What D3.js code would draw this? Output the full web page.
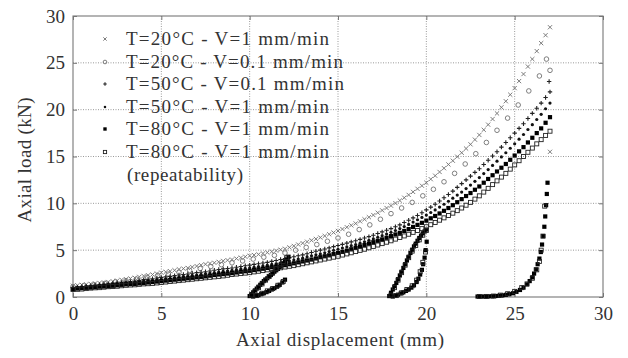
<!DOCTYPE html>
<html><head><meta charset="utf-8">
<script src="https://cdn.jsdelivr.net/npm/d3@7"></script>
<style>
html,body{margin:0;padding:0;background:#fff;}
svg{display:block;}
svg text{font-family:"Liberation Serif","DejaVu Serif",serif;fill:#333;}
</style></head>
<body>
<svg id="chart" width="628" height="358"></svg>
<script>
// ---------------- DATA ----------------
const xTicks = [0, 5, 10, 15, 20, 25, 30];
const yTicks = [0, 5, 10, 15, 20, 25, 30];
const xTitle = "Axial displacement (mm)";
const yTitle = "Axial load (kN)";
const seriesNames = [
  "T=20°C - V=1 mm/min",
  "T=20°C - V=0.1 mm/min",
  "T=50°C - V=0.1 mm/min",
  "T=50°C - V=1 mm/min",
  "T=80°C - V=1 mm/min",
  "T=80°C - V=1 mm/min"
];
const repeatNote = "(repeatability)";

// displacement samples (mm)
const dispA = [0,0.25,0.5,0.75,1,1.25,1.5,1.75,2,2.25,2.5,2.75,3,3.25,3.5,3.75,4,4.25,4.5,4.75,5,5.25,5.5,5.75,6,6.25,6.5,6.75,7,7.25,7.5,7.75,8,8.25,8.5,8.75,9,9.25,9.5,9.75,10,10.25,10.5,10.75,11,11.25,11.5,11.75,12,12.25,12.5,12.75,13,13.25,13.5,13.75,14,14.25,14.5,14.75,15,15.25,15.5,15.75,16,16.25,16.5,16.75,17,17.25,17.5,17.75,18,18.25,18.5,18.75,19,19.25,19.5,19.75,20,20.25,20.5,20.75,21,21.25,21.5,21.75,22,22.25,22.5,22.75,23,23.25,23.5,23.75,24,24.25,24.5,24.75,25,25.25,25.5,25.75,26,26.25,26.5,26.75,27];
const dispB = [0,0.6,1.2,1.8,2.4,3,3.6,4.2,4.8,5.4,6,6.6,7.2,7.8,8.4,9,9.6,10.2,10.8,11.4,12,12.6,13.2,13.8,14.4,15,15.6,16.2,16.8,17.4,18,18.6,19.2,19.8,20.4,21,21.6,22.2,22.8,23.4,24,24.6,25.2,25.8,26.4,26.8,27.0];

// loads (kN)
const loadT20V1 = [1.2,1.25,1.3,1.35, 1.4,1.45,1.5,1.55, 1.6,1.68,1.75,1.83, 1.9,1.98,2.05,2.15, 2.25,2.32,2.4,2.5, 2.6,2.68,2.75,2.85, 2.95,3.03,3.1,3.2, 3.3,3.4,3.5,3.58, 3.65,3.75,3.85,3.93, 4.0,4.1,4.2,4.3, 4.4,4.48,4.55,4.65, 4.75,4.85,4.95,5.05, 5.15,5.3,5.45,5.6, 5.75,5.9,6.05,6.2, 6.35,6.52,6.7,6.88, 7.05,7.25,7.45,7.65, 7.85,8.08,8.3,8.52, 8.75,9.0,9.25,9.5, 9.75,10.02,10.3,10.6, 10.9,11.22,11.55,11.88, 12.2,12.58,12.95,13.35, 13.75,14.15,14.55,14.98, 15.4,15.85,16.3,16.8, 17.3,17.85,18.4,19.0, 19.6,20.25,20.9,21.6, 22.3,23.05,23.8,24.6, 25.4,26.25,27.1,27.95, 28.8];
const tailXT20V1 = [27.0];
const tailYT20V1 = [15.5];
const loadT20V01 = [1.1,1.2,1.3,1.45,1.6,1.75,1.9,2.1,2.3,2.45,2.65,2.85,3.05,3.25,3.45,3.65,3.85,4.05,4.25,4.45,4.7,5.0,5.3,5.6,5.95,6.3,6.7,7.2,7.7,8.3,8.9,9.5,10.1,10.8,11.5,12.3,13.2,14.2,15.3,16.5,17.8,19.1,20.5,22.0,23.6,25.4,24.2];
const loadT50V01 = [1.0,1.05,1.1,1.15, 1.2,1.25,1.3,1.35, 1.4,1.45,1.5,1.55, 1.6,1.65,1.7,1.78, 1.85,1.9,1.95,2.03, 2.1,2.15,2.2,2.28, 2.35,2.4,2.45,2.53, 2.6,2.65,2.7,2.78, 2.85,2.93,3.0,3.05, 3.1,3.18,3.25,3.33, 3.4,3.48,3.55,3.63, 3.7,3.8,3.9,4.0, 4.1,4.2,4.3,4.4, 4.5,4.62,4.75,4.88, 5.0,5.12,5.25,5.38, 5.5,5.62,5.75,5.88, 6.0,6.15,6.3,6.45, 6.6,6.78,6.95,7.12, 7.3,7.5,7.7,7.95, 8.2,8.45,8.7,9.0, 9.3,9.6,9.9,10.25, 10.6,10.95,11.3,11.7, 12.1,12.5,12.9,13.3, 13.7,14.15,14.6,15.05, 15.5,16.0,16.5,17.0, 17.5,18.0,18.5,19.05, 19.6,20.15,20.7,21.3, 21.9];
const tailXT50V01 = [26.95];
const tailYT50V01 = [23.0];
const loadT50V1 = [0.95,1.0,1.05,1.1, 1.15,1.2,1.25,1.3, 1.35,1.4,1.45,1.5, 1.55,1.58,1.6,1.65, 1.7,1.75,1.8,1.85, 1.9,1.95,2.0,2.08, 2.15,2.2,2.25,2.3, 2.35,2.42,2.5,2.55, 2.6,2.68,2.75,2.8, 2.85,2.92,3.0,3.05, 3.1,3.18,3.25,3.32, 3.4,3.48,3.55,3.65, 3.75,3.85,3.95,4.05, 4.15,4.28,4.4,4.5, 4.6,4.72,4.85,4.98, 5.1,5.22,5.35,5.48, 5.6,5.75,5.9,6.05, 6.2,6.38,6.55,6.72, 6.9,7.1,7.3,7.52, 7.75,8.0,8.25,8.5, 8.75,9.02,9.3,9.6, 9.9,10.22,10.55,10.88, 11.2,11.58,11.95,12.35, 12.75,13.18,13.6,14.05, 14.5,14.95,15.4,15.88, 16.35,16.85,17.35,17.88, 18.4,18.95,19.5,20.1, 20.7];
const loadT80V1 = [0.85,0.9,0.95,0.98, 1.0,1.05,1.1,1.12, 1.15,1.2,1.25,1.3, 1.35,1.38,1.4,1.45, 1.5,1.55,1.6,1.65, 1.7,1.75,1.8,1.85, 1.9,1.95,2.0,2.05, 2.1,2.15,2.2,2.28, 2.35,2.4,2.45,2.5, 2.55,2.62,2.7,2.75, 2.8,2.88,2.95,3.02, 3.1,3.18,3.25,3.32, 3.4,3.5,3.6,3.7, 3.8,3.9,4.0,4.12, 4.25,4.35,4.45,4.58, 4.7,4.82,4.95,5.1, 5.25,5.4,5.55,5.7, 5.85,6.0,6.15,6.32, 6.5,6.68,6.85,7.05, 7.25,7.48,7.7,7.92, 8.15,8.4,8.65,8.92, 9.2,9.5,9.8,10.12, 10.45,10.78,11.1,11.45, 11.8,12.2,12.6,13.0, 13.4,13.8,14.2,14.65, 15.1,15.55,16.0,16.5, 17.0,17.5,18.0,18.6, 19.2];
const loadT80V1Rep = [0.8,0.82,0.85,0.9, 0.95,0.98,1.0,1.05, 1.1,1.12,1.15,1.2, 1.25,1.28,1.3,1.35, 1.4,1.42,1.45,1.5, 1.55,1.6,1.65,1.7, 1.75,1.8,1.85,1.9, 1.95,2.0,2.05,2.1, 2.15,2.2,2.25,2.32, 2.4,2.45,2.5,2.55, 2.6,2.68,2.75,2.82, 2.9,2.98,3.05,3.12, 3.2,3.28,3.35,3.45, 3.55,3.65,3.75,3.85, 3.95,4.05,4.15,4.25, 4.35,4.48,4.6,4.72, 4.85,4.98,5.1,5.25, 5.4,5.55,5.7,5.85, 6.0,6.18,6.35,6.52, 6.7,6.9,7.1,7.3, 7.5,7.72,7.95,8.2, 8.45,8.7,8.95,9.22, 9.5,9.8,10.1,10.45, 10.8,11.2,11.6,12.0, 12.4,12.8,13.2,13.65, 14.1,14.55,15.0,15.45, 15.9,16.35,16.8,17.25, 17.7];

// reloading cycles of the 80°C tests
const reloadX80 = [10.0,10.1,10.2,10.3,10.4,10.5,10.6,10.7,10.8,10.9,11.0,11.1,11.2,11.3,11.4,11.5,11.6,11.7,11.8,11.9,12.0,12.1,12.2,
  10.2,10.35,10.5,10.65,10.8,10.95,11.1,11.25,11.4,11.55,11.7,11.85,12.0,
  17.9,18.0,18.1,18.2,18.3,18.4,18.5,18.6,18.7,18.8,18.9,19.0,19.1,19.2,19.3,19.4,19.5,19.6,19.7,19.8,19.9,20.0,
  18.1,18.25,18.4,18.55,18.7,18.85,19.0,19.15,19.3,19.45,19.55,19.65,19.75,19.82,19.9,19.96,20.02,
  22.9,23.1,23.3,23.5,23.7,23.9,24.1,24.3,24.5,24.7,24.9,25.1,25.3,25.5,25.7,25.85,26.0,26.1,26.2,26.3,26.4,26.48,26.55,26.62,26.68,26.73,26.78,26.82,26.86];
const reloadY80 = [0.1,0.3,0.5,0.7,0.9,1.1,1.3,1.5,1.7,1.85,2.0,2.2,2.35,2.5,2.7,2.85,3.0,3.2,3.4,3.6,3.8,4.0,4.3,
  0.05,0.12,0.2,0.3,0.4,0.52,0.65,0.8,0.95,1.1,1.3,1.55,1.85,
  0.1,0.45,0.8,1.15,1.5,1.9,2.3,2.7,3.1,3.5,3.9,4.3,4.7,5.05,5.4,5.7,6.0,6.3,6.55,6.8,7.0,7.2,
  0.05,0.15,0.25,0.38,0.5,0.65,0.8,1.0,1.25,1.6,1.95,2.4,2.9,3.5,4.2,5.0,5.9,
  0.05,0.05,0.05,0.06,0.08,0.1,0.13,0.17,0.23,0.3,0.4,0.55,0.75,1.0,1.35,1.7,2.1,2.5,2.95,3.5,4.1,4.8,5.6,6.5,7.5,8.6,9.8,11.0,12.2];
const reloadXRep = [10.1,10.3,10.5,10.7,10.9,11.1,11.3,11.5,11.7,11.9,12.1, 10.4,10.7,11.0,11.3,11.6,11.9, 18.0,18.2,18.4,18.6,18.8,19.0,19.2,19.4,19.6,19.8,20.0, 18.3,18.6,18.9,19.2,19.45,19.65,19.8,19.95, 23.0,23.4,23.8,24.2,24.6,25.0,25.4,25.7,26.0,26.25,26.4,26.5,26.6,26.7];
const reloadYRep = [0.2,0.6,1.0,1.4,1.8,2.2,2.6,3.0,3.4,3.8,4.2, 0.15,0.4,0.65,0.9,1.25,1.65, 0.2,1.0,1.8,2.6,3.4,4.2,4.9,5.5,6.1,6.6,7.1, 0.15,0.45,0.8,1.2,1.8,2.7,3.7,4.8, 0.05,0.06,0.1,0.2,0.35,0.6,1.0,1.4,2.0,2.9,3.8,5.0,6.5,9.7];

// ---------------- LAYOUT ----------------
const FONT = '"Liberation Serif", "DejaVu Serif", serif';
const plot = {left: 73, right: 603, top: 16, bottom: 297};
const svg = d3.select("#chart");
const x = d3.scaleLinear().domain([0, 30]).range([plot.left, plot.right]);
const y = d3.scaleLinear().domain([0, 30]).range([plot.bottom, plot.top]);

const zip = (xs, ys) => xs.map((v, i) => [v, ys[i]]);

// grid
const grid = svg.append("g");
grid.selectAll("line.gx").data(xTicks.slice(1, -1)).join("line")
  .attr("x1", d => x(d)).attr("x2", d => x(d)).attr("y1", plot.top).attr("y2", plot.bottom)
  .attr("stroke", "#9a9a9a").attr("stroke-width", 1).attr("stroke-dasharray", "1,1.5");
grid.selectAll("line.gy").data(yTicks.slice(1, -1)).join("line")
  .attr("y1", d => y(d)).attr("y2", d => y(d)).attr("x1", plot.left).attr("x2", plot.right)
  .attr("stroke", "#9a9a9a").attr("stroke-width", 1).attr("stroke-dasharray", "1,1.5");

// axes (inward ticks on all sides)
const tickLen = 4;
const axB = d3.axisBottom(x).tickValues(xTicks).tickSize(-tickLen).tickPadding(10);
const axL = d3.axisLeft(y).tickValues(yTicks).tickSize(-tickLen).tickPadding(8);
const axT = d3.axisTop(x).tickValues(xTicks).tickSize(-tickLen).tickFormat("");
const axR = d3.axisRight(y).tickValues(yTicks).tickSize(-tickLen).tickFormat("");
function styleAxis(g){
  g.attr("font-family", null).attr("font-size", null);
  g.select(".domain").remove();
  g.selectAll(".tick line").attr("stroke", "#777");
  g.selectAll(".tick text").attr("fill", "#333").style("font-size", "19px").style("font-family", FONT);
}
svg.append("g").attr("transform", `translate(0,${plot.bottom})`).call(axB).call(styleAxis);
svg.append("g").attr("transform", `translate(${plot.left},0)`).call(axL).call(styleAxis);
svg.append("g").attr("transform", `translate(0,${plot.top})`).call(axT).call(styleAxis);
svg.append("g").attr("transform", `translate(${plot.right},0)`).call(axR).call(styleAxis);

svg.append("rect").attr("x", plot.left).attr("y", plot.top)
  .attr("width", plot.right - plot.left).attr("height", plot.bottom - plot.top)
  .attr("fill", "none").attr("stroke", "#777").attr("stroke-width", 1.1);

// markers
const markers = {
  cross: (g, s) => g.append("path").attr("d", `M${-s},${-s}L${s},${s}M${-s},${s}L${s},${-s}`)
      .attr("stroke", "#6e6e6e").attr("stroke-width", 0.9).attr("fill", "none"),
  circle: (g, s) => g.append("circle").attr("r", s).attr("fill", "none")
      .attr("stroke", "#707070").attr("stroke-width", 0.9),
  plus: (g, s) => g.append("path").attr("d", `M${-s},0H${s}M0,${-s}V${s}`)
      .attr("stroke", "#222").attr("stroke-width", 1.1).attr("fill", "none"),
  dot: (g, s) => g.append("circle").attr("r", s).attr("fill", "#111"),
  fsquare: (g, s) => g.append("rect").attr("x", -s).attr("y", -s).attr("width", 2 * s).attr("height", 2 * s).attr("fill", "#000"),
  osquare: (g, s) => g.append("rect").attr("x", -s).attr("y", -s).attr("width", 2 * s).attr("height", 2 * s)
      .attr("fill", "none").attr("stroke", "#222").attr("stroke-width", 0.9)
};
const sizes = {cross: 2.1, circle: 2.3, plus: 2.2, dot: 1.6, fsquare: 2.1, osquare: 2.0};

const layers = [
  {pts: zip(dispA, loadT20V1).concat(zip(tailXT20V1, tailYT20V1)), m: "cross"},
  {pts: zip(dispB, loadT20V01), m: "circle"},
  {pts: zip(dispA, loadT50V01).concat(zip(tailXT50V01, tailYT50V01)), m: "plus"},
  {pts: zip(dispA, loadT50V1), m: "dot"},
  {pts: zip(dispA, loadT80V1).concat(zip(reloadX80, reloadY80)), m: "fsquare"},
  {pts: zip(dispA, loadT80V1Rep).concat(zip(reloadXRep, reloadYRep)), m: "osquare"}
];
const pg = svg.append("g");
layers.forEach(L => {
  const g = pg.append("g");
  L.pts.forEach(p => {
    const mg = g.append("g").attr("transform", `translate(${x(p[0])},${y(p[1])})`);
    markers[L.m](mg, sizes[L.m]);
  });
});

// legend
const legendMarkX = 105, legendTextX = 126;
const legendBase = [45, 68, 90, 113, 135, 158];
const legendWidths = [203, 217, 218, 203, 203, 203];
const legendKinds = ["cross", "circle", "plus", "dot", "fsquare", "osquare"];
const lg = svg.append("g");
seriesNames.forEach((name, i) => {
  const mg = lg.append("g").attr("transform", `translate(${legendMarkX},${legendBase[i] - 6})`);
  markers[legendKinds[i]](mg, sizes[legendKinds[i]] * 0.8);
  lg.append("text").attr("x", legendTextX).attr("y", legendBase[i])
    .attr("textLength", legendWidths[i]).attr("lengthAdjust", "spacing")
    .style("font-size", "19px").style("font-family", FONT).text(name);
});
lg.append("text").attr("x", 127).attr("y", 181).attr("textLength", 116).attr("lengthAdjust", "spacing")
  .style("font-size", "19px").style("font-family", FONT).text(repeatNote);

// axis titles
svg.append("text").attr("x", 340).attr("y", 346).attr("text-anchor", "middle")
  .attr("textLength", 208).attr("lengthAdjust", "spacing")
  .style("font-size", "19px").style("font-family", FONT).text(xTitle);
svg.append("text").attr("transform", "translate(31,160) rotate(-90)").attr("text-anchor", "middle")
  .attr("textLength", 125).attr("lengthAdjust", "spacing")
  .style("font-size", "19px").style("font-family", FONT).text(yTitle);
</script>
</body></html>
